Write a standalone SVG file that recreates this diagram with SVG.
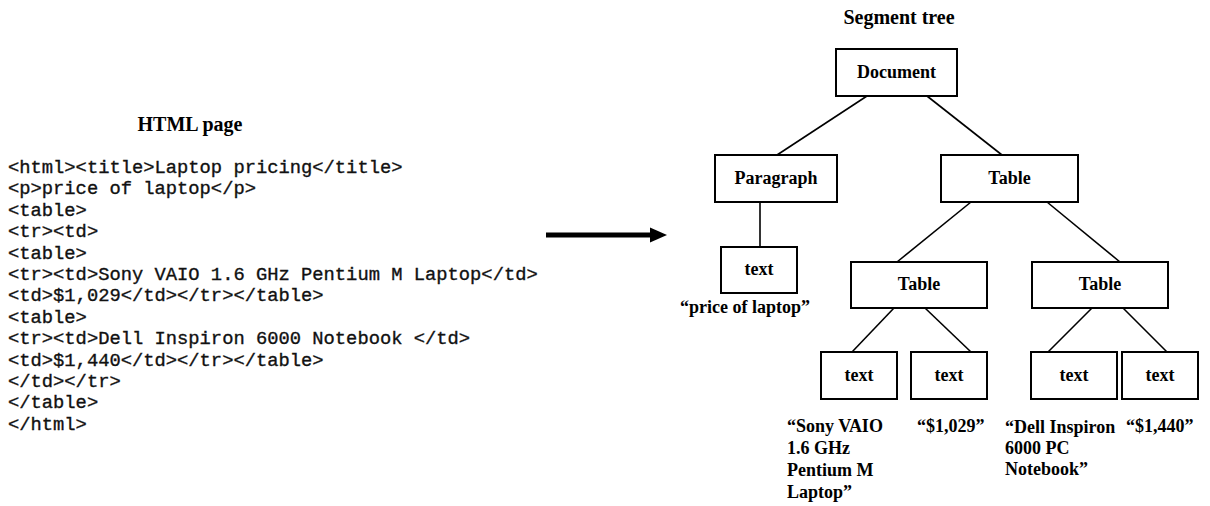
<svg xmlns="http://www.w3.org/2000/svg" width="1210" height="506" viewBox="0 0 1210 506">
<style>
.code{font-family:"Liberation Mono","Courier New",monospace;font-size:18.8px;fill:#111;stroke:#111;stroke-width:0.35;white-space:pre}
.title{font-family:"Liberation Serif","Times New Roman",serif;font-size:20px;font-weight:bold;fill:#000}
.lbl{font-family:"Liberation Serif","Times New Roman",serif;font-size:18px;font-weight:bold;fill:#000}
.nlbl{font-family:"Liberation Serif","Times New Roman",serif;font-size:18px;font-weight:bold;fill:#000;text-anchor:middle}
.box{fill:#fff;stroke:#000;stroke-width:2}
.edge{stroke:#000;stroke-width:1.6;fill:none}
</style>
<rect width="1210" height="506" fill="#fff"/>

<g id="html-page">
<text class="title" x="190" y="131" text-anchor="middle">HTML page</text>
<text class="code" x="8" y="173">&lt;html&gt;&lt;title&gt;Laptop pricing&lt;/title&gt;</text>
<text class="code" x="8" y="194.4">&lt;p&gt;price of laptop&lt;/p&gt;</text>
<text class="code" x="8" y="215.8">&lt;table&gt;</text>
<text class="code" x="8" y="237.2">&lt;tr&gt;&lt;td&gt;</text>
<text class="code" x="8" y="258.6">&lt;table&gt;</text>
<text class="code" x="8" y="280">&lt;tr&gt;&lt;td&gt;Sony VAIO 1.6 GHz Pentium M Laptop&lt;/td&gt;</text>
<text class="code" x="8" y="301.4">&lt;td&gt;$1,029&lt;/td&gt;&lt;/tr&gt;&lt;/table&gt;</text>
<text class="code" x="8" y="322.8">&lt;table&gt;</text>
<text class="code" x="8" y="344.2">&lt;tr&gt;&lt;td&gt;Dell Inspiron 6000 Notebook &lt;/td&gt;</text>
<text class="code" x="8" y="365.6">&lt;td&gt;$1,440&lt;/td&gt;&lt;/tr&gt;&lt;/table&gt;</text>
<text class="code" x="8" y="387">&lt;/td&gt;&lt;/tr&gt;</text>
<text class="code" x="8" y="408.4">&lt;/table&gt;</text>
<text class="code" x="8" y="429.8">&lt;/html&gt;</text>
</g>

<g id="arrow">
<line x1="546" y1="235" x2="651" y2="235" stroke="#000" stroke-width="5"/>
<path d="M650,227.5 L667,235 L650,242.5 Z" fill="#000"/>
</g>

<g id="connectors">
<line class="edge" x1="867" y1="96" x2="777" y2="155"/>
<line class="edge" x1="927" y1="96" x2="1002" y2="155"/>
<line class="edge" x1="760" y1="202" x2="760" y2="247"/>
<line class="edge" x1="971" y1="202" x2="897" y2="262"/>
<line class="edge" x1="1047" y1="202" x2="1120" y2="262"/>
<line class="edge" x1="894" y1="308" x2="852" y2="352"/>
<line class="edge" x1="925" y1="308" x2="971" y2="352"/>
<line class="edge" x1="1092" y1="308" x2="1048" y2="352"/>
<line class="edge" x1="1123" y1="308" x2="1167" y2="352"/>
</g>

<text class="title" x="899" y="24" text-anchor="middle">Segment tree</text>

<g id="n-document">
<rect class="box" x="836" y="49" width="121" height="47"/>
<text class="nlbl" x="896.5" y="77.5">Document</text>
</g>
<g id="n-paragraph">
<rect class="box" x="715" y="155" width="122" height="47"/>
<text class="nlbl" x="776" y="183.5">Paragraph</text>
</g>
<g id="n-table">
<rect class="box" x="941" y="155" width="137" height="47"/>
<text class="nlbl" x="1009.5" y="183.5">Table</text>
</g>
<g id="n-text-p">
<rect class="box" x="721" y="247" width="76" height="46"/>
<text class="nlbl" x="759" y="275">text</text>
<text class="lbl" x="745" y="313" text-anchor="middle">“price of laptop”</text>
</g>
<g id="n-table-l">
<rect class="box" x="851" y="262" width="136" height="46"/>
<text class="nlbl" x="919" y="290">Table</text>
</g>
<g id="n-table-r">
<rect class="box" x="1032" y="262" width="136" height="46"/>
<text class="nlbl" x="1100" y="290">Table</text>
</g>
<g id="n-text-1">
<rect class="box" x="821" y="352" width="76" height="47"/>
<text class="nlbl" x="859" y="380.5">text</text>
<text class="lbl" x="787" y="432">“Sony VAIO</text>
<text class="lbl" x="787" y="454">1.6 GHz</text>
<text class="lbl" x="787" y="476">Pentium M</text>
<text class="lbl" x="787" y="498">Laptop”</text>
</g>
<g id="n-text-2">
<rect class="box" x="911" y="352" width="76" height="47"/>
<text class="nlbl" x="949" y="380.5">text</text>
<text class="lbl" x="917" y="432">“$1,029”</text>
</g>
<g id="n-text-3">
<rect class="box" x="1031" y="352" width="86" height="47"/>
<text class="nlbl" x="1074" y="380.5">text</text>
<text class="lbl" x="1005" y="433">“Dell Inspiron</text>
<text class="lbl" x="1005" y="454">6000 PC</text>
<text class="lbl" x="1005" y="475">Notebook”</text>
</g>
<g id="n-text-4">
<rect class="box" x="1122" y="352" width="76" height="47"/>
<text class="nlbl" x="1160" y="380.5">text</text>
<text class="lbl" x="1126" y="432">“$1,440”</text>
</g>
</svg>
